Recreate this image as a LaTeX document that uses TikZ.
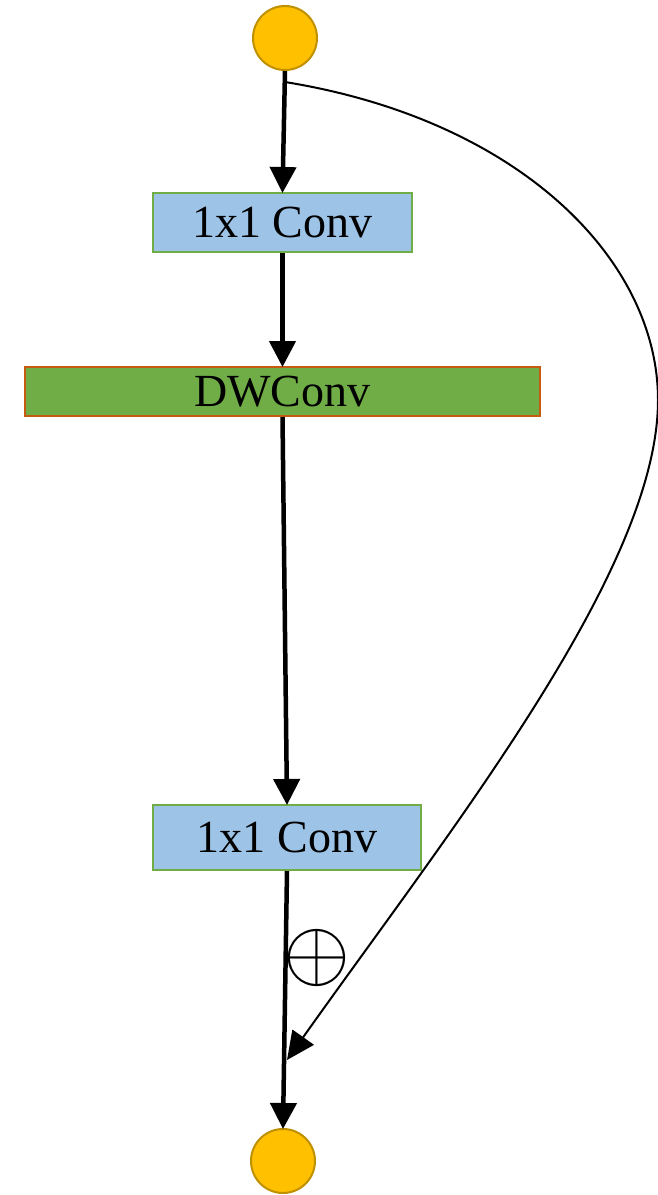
\documentclass[tikz,border=0pt]{standalone}
\usepackage{fontspec}
\setmainfont{Liberation Serif}
\usetikzlibrary{arrows.meta}
\definecolor{ioFill}{HTML}{FFC000}
\definecolor{ioDraw}{HTML}{BF9000}
\definecolor{convFill}{HTML}{9DC3E6}
\definecolor{convDraw}{HTML}{70AD47}
\definecolor{dwFill}{HTML}{70AD47}
\definecolor{dwDraw}{HTML}{C55A11}
\tikzset{
  io/.style={circle, fill=ioFill, draw=ioDraw, line width=2pt, minimum size=64pt, inner sep=0pt},
  convbox/.style={rectangle, fill=convFill, draw=convDraw, line width=2pt, inner sep=0pt, font=\fontsize{46}{50}\selectfont},
  dwbox/.style={rectangle, fill=dwFill, draw=dwDraw, line width=2pt, inner sep=0pt, font=\fontsize{46}{50}\selectfont},
  mainarrow/.style={line width=4.5pt, -{Triangle[length=26pt,width=26pt]}, shorten >=-1pt},
  skiparrow/.style={line width=2pt, -{Triangle[length=28pt,width=26pt]}},
}
\begin{document}
\begin{tikzpicture}[x=1pt,y=-1pt]
\useasboundingbox (0,0) rectangle (657,1195);
\node[io] (in) at (285,38) {};
\node[convbox, minimum width=259pt, minimum height=59pt] (b1) at (282.5,222.5) {1x1 Conv};
\node[dwbox, minimum width=515pt, minimum height=49pt] (dw) at (282.5,391.5) {DWConv};
\node[convbox, minimum width=268pt, minimum height=65pt] (b3) at (287,837.5) {1x1 Conv};
\node[io] (out) at (283,1161) {};
\node[inner sep=0pt] (plus) at (317,958) {\scalebox{8.6}{$\oplus$}};
\coordinate (s) at (285,82);
\coordinate (e) at (287,1060);
\draw[mainarrow] (in.south) -- (b1.north);
\draw[mainarrow] (b1.south) -- (dw.north);
\draw[mainarrow] (dw.south) -- (b3.north);
\draw[mainarrow] (b3.south) -- (out.north);
\draw[skiparrow] (s) .. controls (520,120) and (658,260) .. (658,400) .. controls (658,570) and (450,830) .. (e);
\end{tikzpicture}
\end{document}
